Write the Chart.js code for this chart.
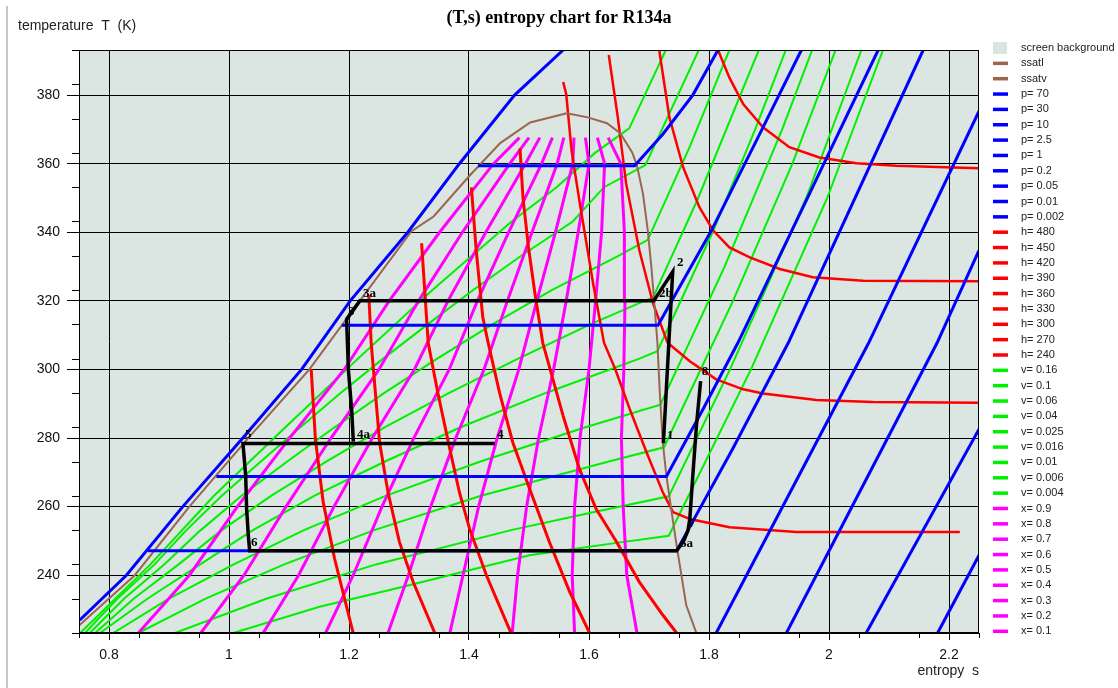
<!DOCTYPE html>
<html>
<head>
<meta charset="utf-8">
<title>(T,s) entropy chart for R134a</title>
<script src="https://cdn.jsdelivr.net/npm/chart.js@4.4.0/dist/chart.umd.min.js"></script>
<style>
  html, body { margin: 0; padding: 0; background: #fff; }
  #wrap { position: relative; width: 1118px; height: 688px; }
  #edge { position: absolute; left: 6px; top: 6px; bottom: 0; width: 2px; background: #c8c8c8; }
</style>
</head>
<body>
<div id="wrap">
  <canvas id="ts" width="1118" height="688"></canvas>
  <div id="edge"></div>
</div>
<script>
// axis ticks (entropy s in kJ/kg K, temperature T in K)
const sMajor = [0.8, 1, 1.2, 1.4, 1.6, 1.8, 2, 2.2];
const sMinor = [0.75, 0.85, 0.95, 1.05, 1.15, 1.25, 1.35, 1.45, 1.55, 1.65, 1.75, 1.85, 1.95, 2.05, 2.15, 2.25];
const tMajor = [240, 260, 280, 300, 320, 340, 360, 380];
const tMinor = [223.15, 233.15, 243.15, 253.15, 263.15, 273.15, 283.15, 293.15, 303.15, 313.15,
                323.15, 333.15, 343.15, 353.15, 363.15, 373.15, 383.15, 393.15];

// saturation lines, [s, T]
const ssatl = [[0.751,225.5],[0.843,240],[0.934,260],[1.032,280],[1.134,300],[1.218,320],[1.304,340.3],
               [1.341,344.6],[1.402,356.7],[1.452,366],[1.502,372],[1.563,374.7]];
const ssatv = [[1.563,374.7],[1.598,373.5],[1.630,371.8],[1.652,368.9],[1.672,363.3],[1.680,359.4],[1.690,351.2],
               [1.698,340.5],[1.704,329.8],[1.709,319.1],[1.714,307.8],[1.718,293.2],[1.723,278.7],[1.729,269],
               [1.737,259.3],[1.746,248.7],[1.754,240],[1.762,231.3],[1.779,223.15]];

// isobars (bar)
const p70 = [[0.751,226.9],[0.829,240],[0.923,260],[1.023,280],[1.121,300],[1.202,320],[1.298,340],[1.384,360],[1.476,380],[1.557,393.15]];
const p30 = [[1.415,359.4],[1.676,359.4],[1.723,368.6],[1.773,380],[1.815,393.15]];
const p10 = [[1.188,312.9],[1.715,312.9],[1.804,340.5],[1.890,370.6],[1.954,393.15]];
const p2_5 = [[0.979,268.8],[1.729,268.8],[1.790,288.4],[1.848,307.7],[1.968,351.4],[2.082,393.15]];
const p1 = [[0.865,247.1],[1.746,247.1],[1.840,277],[1.932,307.7],[2.157,393.15]];
const p0_2 = [[1.812,223.15],[2.066,307.7],[2.25,375.3]];
const p0_05 = [[1.929,223.15],[2.180,307.7],[2.25,334.7]];
const p0_01 = [[2.062,223.15],[2.25,282.6]];
const p0_002 = [[2.181,223.15],[2.25,245.8]];

// isenthalps (kJ/kg)
const h480 = [[1.815,393.15],[1.834,385.1],[1.857,377.4],[1.890,370.6],[1.934,364.8],[1.984,361.8],[2.046,360.1],[2.112,359.4],[2.25,358.7]];
const h450 = [[1.717,393.15],[1.734,373.5],[1.757,358.9],[1.784,347.3],[1.807,340.5],[1.834,335.6],[1.868,332.7],[1.918,329.3],[1.973,326.9],[2.057,325.9],[2.25,325.7]];
const h420 = [[1.633,391.7],[1.648,373.5],[1.662,354.1],[1.684,334.7],[1.707,319.1],[1.731,307.8],[1.768,302.4],[1.812,297.1],[1.857,294.2],[1.890,293.0],[1.979,291.1],[2.073,290.5],[2.25,290.3]];
const h390 = [[1.557,383.8],[1.562,380.3],[1.571,363.8],[1.584,349.2],[1.607,324.9],[1.625,307.8],[1.644,300],[1.668,288.4],[1.696,275.8],[1.723,264.2],[1.740,258.4],[1.768,256.4],[1.834,254.0],[1.946,252.6],[2.218,252.6]];
const h360 = [[1.485,364.4],[1.490,350],[1.499,335.8],[1.510,322],[1.523,307.7],[1.557,286.4],[1.584,271.0],[1.612,259.3],[1.646,249.7],[1.684,238.0],[1.723,228.4],[1.746,223.15]];
const h330 = [[1.404,353.1],[1.412,334.7],[1.423,315.2],[1.432,307.7],[1.451,293.2],[1.473,278.7],[1.501,265.2],[1.534,249.7],[1.568,235.1],[1.601,223.15]];
const h300 = [[1.321,336.8],[1.332,307.8],[1.348,293.2],[1.368,276.8],[1.384,264.2],[1.401,253.5],[1.429,240],[1.470,223.15]];
const h270 = [[1.233,321.7],[1.237,307.7],[1.251,278.7],[1.265,264.2],[1.284,249.7],[1.307,238],[1.343,223.15]];
const h240 = [[1.137,300],[1.144,279.7],[1.157,261.3],[1.176,244.8],[1.207,223.15]];

// isochores (m3/kg)
const v0_16 = [[1.007,223.15],[1.151,230.8],[1.285,236.4],[1.501,245.8],[1.649,249.5],[1.733,251.5],[1.870,300],[1.997,350],[2.090,393.15]];
const v0_1 = [[0.910,223.15],[1.062,233.15],[1.245,243.15],[1.470,253.15],[1.601,258.15],[1.733,263],[1.835,300],[1.962,350],[2.054,393.15]];
const v0_06 = [[0.849,223.15],[0.961,233.15],[1.092,243.15],[1.242,253.15],[1.420,263.15],[1.633,273.15],[1.725,277.3],[1.840,320],[1.939,360],[2.011,393.15]];
const v0_04 = [[0.807,223.15],[0.900,233.15],[1.008,243.15],[1.125,253.15],[1.261,263.15],[1.419,273.15],[1.594,283.15],[1.719,289.7],[1.826,330],[1.922,370],[1.972,393.15]];
const v0_025 = [[0.785,223.15],[0.864,233.15],[0.952,243.15],[1.040,253.15],[1.142,263.15],[1.260,273.15],[1.386,283.15],[1.528,293.15],[1.684,303.15],[1.714,305.3],[1.806,340],[1.877,370],[1.928,393.15]];
const v0_016 = [[0.777,223.15],[0.841,233.15],[0.916,243.15],[0.988,253.15],[1.070,263.15],[1.162,273.15],[1.260,283.15],[1.367,293.15],[1.482,303.15],[1.602,313.15],[1.707,321.1],[1.782,350],[1.883,393.15]];
const v0_01 = [[0.768,223.15],[0.825,233.15],[0.892,243.15],[0.953,253.15],[1.021,263.15],[1.097,273.15],[1.176,283.15],[1.259,293.15],[1.347,303.15],[1.439,313.15],[1.538,323.15],[1.649,333.15],[1.698,337.8],[1.768,365],[1.834,393.15]];
const v0_006 = [[0.760,223.15],[0.814,233.15],[0.876,243.15],[0.929,253.15],[0.988,263.15],[1.053,273.15],[1.119,283.15],[1.186,293.15],[1.257,303.15],[1.331,313.15],[1.407,323.15],[1.487,333.15],[1.573,343.15],[1.625,353.15],[1.694,359.6],[1.783,393.15]];
const v0_004 = [[0.752,223.15],[0.869,243.15],[0.975,263.15],[1.094,283.15],[1.215,303.15],[1.339,323.15],[1.471,343.15],[1.546,353.15],[1.610,363.15],[1.667,370.3],[1.728,393.15]];

// quality lines, all read at the same temperatures
const xTemps = [223.15, 240, 260, 280, 300, 320, 340, 360, 367.6];
const x0_9 = [1.680, 1.663, 1.657, 1.654, 1.658, 1.660, 1.659, 1.653, 1.632];
const x0_8 = [1.576, 1.572, 1.576, 1.585, 1.600, 1.611, 1.621, 1.626, 1.614];
const x0_7 = [1.472, 1.481, 1.496, 1.516, 1.541, 1.562, 1.582, 1.600, 1.594];
const x0_6 = [1.368, 1.390, 1.416, 1.447, 1.483, 1.513, 1.544, 1.573, 1.575];
const x0_5 = [1.265, 1.299, 1.336, 1.378, 1.425, 1.464, 1.505, 1.547, 1.558];
const x0_4 = [1.161, 1.207, 1.255, 1.308, 1.367, 1.414, 1.466, 1.521, 1.539];
const x0_3 = [1.057, 1.116, 1.175, 1.239, 1.309, 1.365, 1.428, 1.494, 1.518];
const x0_2 = [0.953, 1.025, 1.095, 1.170, 1.250, 1.316, 1.389, 1.468, 1.500];
const x0_1 = [0.849, 0.934, 1.014, 1.101, 1.192, 1.267, 1.351, 1.441, 1.484];

// refrigeration cycles
const cycleHigh = [[1.724,278.5],[1.7395,328.5],[1.708,320],[1.218,320],[1.196,314.6],[1.199,299.9],[1.2045,288.1],[1.2072,278.95]];
const cycleLow = [[1.443,278.4],[1.0233,278.4],[1.0278,269],[1.0294,259.3],[1.0322,251.6],[1.0344,247.1],[1.746,247.1],
                  [1.757,249.7],[1.765,253.0],[1.768,256.4],[1.773,269],[1.779,283.5],[1.786,296.6]];
const pointLabels = [['2',1.7467,330.2],['2b',1.7167,321.1],['1',1.730,279.7],['8',1.7878,298.4],['7',1.7667,254.1],
                     ['6a',1.7517,248.2],['3a',1.2233,321.1],['3',1.1983,315.9],['4a',1.2133,280.0],['4',1.4467,279.9],
                     ['5',1.0267,280.0],['6',1.0367,248.5]];

const BG = '#dbe5e1';
const BROWN = '#9a6650', BLUE = '#0000ff', RED = '#ff0000', GREEN = '#00f000', MAGENTA = '#ff00ff';

const curves = [
  ['ssatl', ssatl, BROWN, 2, 2], ['ssatv', ssatv, BROWN, 2, 2],
  ['p= 70', p70, BLUE, 3, 1], ['p= 30', p30, BLUE, 3, 1], ['p= 10', p10, BLUE, 3, 1], ['p= 2.5', p2_5, BLUE, 3, 1],
  ['p= 1', p1, BLUE, 3, 1], ['p= 0.2', p0_2, BLUE, 3, 1], ['p= 0.05', p0_05, BLUE, 3, 1], ['p= 0.01', p0_01, BLUE, 3, 1],
  ['p= 0.002', p0_002, BLUE, 3, 1],
  ['h= 480', h480, RED, 2.5, 3], ['h= 450', h450, RED, 2.5, 3], ['h= 420', h420, RED, 2.5, 3], ['h= 390', h390, RED, 2.5, 3],
  ['h= 360', h360, RED, 3, 3], ['h= 330', h330, RED, 3, 3], ['h= 300', h300, RED, 3, 3], ['h= 270', h270, RED, 3, 3],
  ['h= 240', h240, RED, 3, 3],
  ['v= 0.16', v0_16, GREEN, 2, 5], ['v= 0.1', v0_1, GREEN, 2, 5], ['v= 0.06', v0_06, GREEN, 2, 5], ['v= 0.04', v0_04, GREEN, 2, 5],
  ['v= 0.025', v0_025, GREEN, 2, 5], ['v= 0.016', v0_016, GREEN, 2, 5], ['v= 0.01', v0_01, GREEN, 2, 5],
  ['v= 0.006', v0_006, GREEN, 2, 5], ['v= 0.004', v0_004, GREEN, 2, 5]
];
const qualities = [['x= 0.9', x0_9], ['x= 0.8', x0_8], ['x= 0.7', x0_7], ['x= 0.6', x0_6], ['x= 0.5', x0_5],
                   ['x= 0.4', x0_4], ['x= 0.3', x0_3], ['x= 0.2', x0_2], ['x= 0.1', x0_1]];

function lineSet(label, pts, color, width, order, inLegend) {
  return {
    label, data: pts.map(([s, T]) => ({ x: s, y: T })),
    borderColor: color, backgroundColor: color, borderWidth: width,
    pointRadius: 0, showLine: true, tension: 0, order, clip: 0, inLegend
  };
}

const datasets = curves.map(c => lineSet(c[0], c[1], c[2], c[3], c[4], true));
qualities.forEach(([label, sv]) => {
  datasets.push(lineSet(label, sv.map((s, i) => [s, xTemps[i]]), MAGENTA, 3, 4, true));
});
datasets.push(lineSet('cycle high', cycleHigh, '#000', 3.5, 0, false));
datasets.push(lineSet('cycle low', cycleLow, '#000', 3.5, 0, false));

const decor = {
  id: 'decor',
  beforeDraw(chart) {
    const { ctx, chartArea: a } = chart;
    ctx.save();
    ctx.fillStyle = BG;
    ctx.fillRect(a.left, a.top, a.width, a.height);
    ctx.restore();
  },
  afterDraw(chart) {
    const { ctx, chartArea: a, scales: { x, y } } = chart;
    ctx.save();
    ctx.strokeStyle = '#000';
    ctx.lineWidth = 1;
    ctx.strokeRect(a.left + 0.5, a.top + 0.5, a.width - 1, a.height - 1);

    // short ticks between the labelled ones
    ctx.beginPath();
    sMinor.forEach(v => {
      const px = Math.round(x.getPixelForValue(v)) + 0.5;
      ctx.moveTo(px, a.bottom); ctx.lineTo(px, a.bottom + 5);
    });
    tMinor.forEach(v => {
      const py = Math.round(y.getPixelForValue(v)) + 0.5;
      ctx.moveTo(a.left - 7, py); ctx.lineTo(a.left, py);
    });
    ctx.stroke();

    // state point numbers
    ctx.font = 'bold 13px "Liberation Serif", "Times New Roman", serif';
    ctx.fillStyle = '#000';
    ctx.textBaseline = 'alphabetic';
    pointLabels.forEach(([t, s, T]) => ctx.fillText(t, x.getPixelForValue(s), y.getPixelForValue(T)));

    // vertical axis caption
    ctx.font = '14px "Liberation Sans", Arial, sans-serif';
    ctx.fillStyle = '#222';
    ctx.textBaseline = 'middle';
    ctx.fillText('temperature  T  (K)', 18, 26);

    // legend column
    const lx = a.right + 14, tx = a.right + 42, step = 15.35;
    ctx.font = '11px "Liberation Sans", Arial, sans-serif';
    ctx.fillStyle = BG;
    ctx.fillRect(lx, 42, 14, 12);
    ctx.fillStyle = '#222';
    ctx.fillText('screen background', tx, 48);
    chart.data.datasets.filter(d => d.inLegend).forEach((d, i) => {
      const yy = 48 + step * (i + 1);
      ctx.strokeStyle = d.borderColor;
      ctx.lineWidth = 3.5;
      ctx.beginPath(); ctx.moveTo(lx, yy); ctx.lineTo(lx + 15, yy); ctx.stroke();
      ctx.fillStyle = '#222';
      ctx.fillText(d.label, tx, yy);
    });
    ctx.restore();
  }
};

const tickFont = { family: '"Liberation Sans", Arial, sans-serif', size: 14 };

new Chart(document.getElementById('ts'), {
  type: 'scatter',
  data: { datasets },
  options: {
    responsive: false,
    animation: false,
    events: [],
    layout: { padding: 0 },
    plugins: {
      legend: { display: false },
      tooltip: { enabled: false },
      title: {
        display: true,
        text: '(T,s) entropy chart for R134a',
        color: '#000',
        font: { family: '"Liberation Serif", "Times New Roman", serif', size: 18, weight: 'bold' },
        padding: { top: 7.2, bottom: 21.2 }
      }
    },
    scales: {
      x: {
        type: 'linear', position: 'bottom', min: 0.75, max: 2.25,
        afterBuildTicks: s => { s.ticks = sMajor.map(v => ({ value: v })); },
        afterFit: s => { s.height = 55; },
        ticks: { autoSkip: false, maxRotation: 0, padding: 7, color: '#111', font: tickFont,
                 callback: v => String(v) },
        grid: { color: '#000', lineWidth: 1, tickLength: 7, tickColor: '#000' },
        border: { color: '#000', width: 1 },
        title: { display: true, text: 'entropy  s', align: 'end', color: '#222',
                 font: { family: '"Liberation Sans", Arial, sans-serif', size: 14 }, padding: { top: 0, bottom: 8 } }
      },
      y: {
        type: 'linear', position: 'left', min: 223.15, max: 393.15,
        afterBuildTicks: s => { s.ticks = tMajor.map(v => ({ value: v })); },
        afterFit: s => { s.width = 79; },
        ticks: { autoSkip: false, padding: 7, color: '#111', font: tickFont, callback: v => String(v) },
        grid: { color: '#000', lineWidth: 1, tickLength: 12, tickColor: '#000' },
        border: { color: '#000', width: 1 }
      },
      side: {
        type: 'linear', position: 'right', display: true,
        afterFit: s => { s.width = 139; },
        ticks: { display: false },
        grid: { display: false, drawTicks: false },
        border: { display: false }
      }
    }
  },
  plugins: [decor]
});
</script>
</body>
</html>
